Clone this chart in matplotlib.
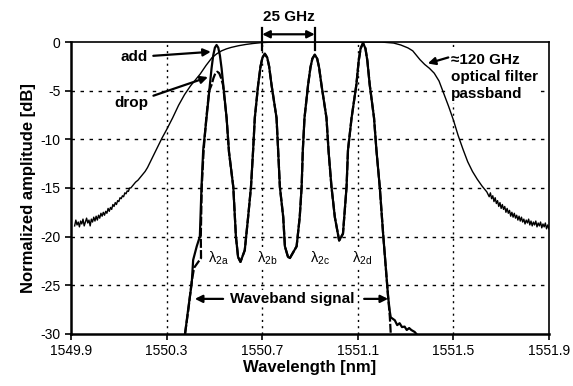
import matplotlib
matplotlib.use("Agg")
import matplotlib.pyplot as plt

plt.rcParams['font.family'] = ['Liberation Sans', 'DejaVu Sans']
plt.rcParams['axes.unicode_minus'] = False
plt.rcParams['mathtext.fontset'] = 'custom'
plt.rcParams['mathtext.rm'] = 'Liberation Sans'
plt.rcParams['mathtext.it'] = 'Liberation Sans'

# optical filter passband (thin trace)
filt_nm = [1549.915, 1549.920, 1549.925, 1549.930, 1549.935, 1549.940, 1549.945, 1549.950,
           1549.955, 1549.960, 1549.965, 1549.970, 1549.975, 1549.980, 1549.985, 1549.990,
           1549.995, 1550.000, 1550.005, 1550.010, 1550.015, 1550.020, 1550.025, 1550.030,
           1550.035, 1550.040, 1550.045, 1550.050, 1550.055, 1550.060, 1550.065, 1550.070,
           1550.075, 1550.080, 1550.085, 1550.090, 1550.095, 1550.100, 1550.105, 1550.110,
           1550.115, 1550.120, 1550.125, 1550.130, 1550.135, 1550.140, 1550.145, 1550.150,
           1550.160, 1550.170, 1550.180, 1550.190, 1550.200, 1550.210, 1550.220, 1550.230,
           1550.240, 1550.250, 1550.260, 1550.270, 1550.280, 1550.300, 1550.325, 1550.350,
           1550.375, 1550.400, 1550.420, 1550.440, 1550.465, 1550.490, 1550.510, 1550.530,
           1550.550, 1550.570, 1550.600, 1550.630, 1550.660, 1550.700, 1550.750, 1551.200,
           1551.250, 1551.280, 1551.310, 1551.330, 1551.360, 1551.380, 1551.400, 1551.420,
           1551.440, 1551.460, 1551.480, 1551.500, 1551.520, 1551.540, 1551.560, 1551.580,
           1551.600, 1551.620, 1551.640, 1551.650, 1551.655, 1551.660, 1551.665, 1551.670,
           1551.675, 1551.680, 1551.685, 1551.690, 1551.695, 1551.700, 1551.705, 1551.710,
           1551.715, 1551.720, 1551.725, 1551.730, 1551.735, 1551.740, 1551.745, 1551.750,
           1551.755, 1551.760, 1551.765, 1551.770, 1551.775, 1551.780, 1551.785, 1551.790,
           1551.795, 1551.800, 1551.805, 1551.810, 1551.815, 1551.820, 1551.825, 1551.830,
           1551.835, 1551.840, 1551.845, 1551.850, 1551.855, 1551.860, 1551.865, 1551.870,
           1551.875, 1551.880, 1551.885, 1551.890, 1551.895, 1551.900]
filt_db = [-18.9, -18.3, -18.8, -18.5, -19.0, -18.4, -18.7, -18.2,
           -18.9, -18.5, -18.1, -18.6, -18.3, -18.9, -18.2, -18.5,
           -18.0, -18.4, -17.9, -18.3, -17.8, -18.1, -17.6, -17.9,
           -17.5, -17.8, -17.4, -17.6, -17.1, -17.4, -17.0, -17.2,
           -16.7, -16.9, -16.5, -16.7, -16.3, -16.4, -16.0, -16.1,
           -15.8, -15.9, -15.5, -15.6, -15.3, -15.35, -15.0, -15.0,
           -14.7, -14.4, -14.2, -13.9, -13.6, -13.3, -12.9, -12.4,
           -11.9, -11.4, -10.9, -10.4, -9.9, -9.0, -7.8, -6.5,
           -5.4, -4.5, -3.9, -3.3, -2.4, -1.6, -1.2, -0.9,
           -0.7, -0.55, -0.38, -0.25, -0.15, -0.05, 0.0, 0.0,
           -0.1, -0.3, -0.6, -0.9, -1.8, -2.3, -2.7, -3.2,
           -4.0, -5.3, -6.6, -8.0, -9.6, -11.0, -12.3, -13.3,
           -14.1, -14.8, -15.4, -15.9, -15.5, -16.1, -15.8, -16.4,
           -16.0, -16.6, -16.3, -16.9, -16.5, -17.1, -16.7, -17.2,
           -16.9, -17.5, -17.1, -17.6, -17.3, -17.9, -17.5, -18.0,
           -17.6, -18.1, -17.8, -18.3, -17.9, -18.4, -18.0, -18.5,
           -18.2, -18.7, -18.3, -18.6, -18.2, -18.8, -18.4, -18.9,
           -18.5, -18.8, -18.4, -19.0, -18.6, -18.9, -18.5, -19.1,
           -18.7, -19.0, -18.6, -19.2, -18.8, -19.2]

# add channel trace
add_nm = [1550.377, 1550.390, 1550.405, 1550.411, 1550.426, 1550.439, 1550.446, 1550.453,
          1550.467, 1550.488, 1550.495, 1550.502, 1550.509, 1550.516, 1550.523, 1550.530,
          1550.551, 1550.561,
          1550.579, 1550.590, 1550.599, 1550.609, 1550.627, 1550.641, 1550.653, 1550.662,
          1550.669, 1550.683, 1550.693, 1550.701, 1550.711, 1550.721, 1550.729, 1550.739,
          1550.760, 1550.767,
          1550.774, 1550.788, 1550.795, 1550.808, 1550.816, 1550.844, 1550.857, 1550.865,
          1550.870, 1550.877, 1550.892, 1550.902, 1550.910, 1550.920, 1550.930, 1550.938,
          1550.948, 1550.969,
          1550.978, 1550.990, 1551.004, 1551.022, 1551.038, 1551.053, 1551.059, 1551.074,
          1551.094, 1551.104, 1551.112, 1551.122, 1551.132, 1551.140, 1551.150, 1551.168,
          1551.178, 1551.192,
          1551.206, 1551.217, 1551.227, 1551.234, 1551.238, 1551.255, 1551.265, 1551.275,
          1551.285, 1551.296, 1551.305, 1551.315, 1551.324, 1551.338, 1551.345]
add_db = [-30.0, -27.5, -24.8, -22.4, -21.0, -20.0, -14.9, -11.1,
          -7.8, -2.7, -1.37, -0.57, -0.3, -0.57, -1.37, -2.7,
          -7.8, -11.3,
          -14.9, -20.0, -22.1, -22.6, -21.4, -18.0, -14.9, -11.1,
          -7.8, -4.4, -2.5, -1.6, -1.2, -1.6, -2.5, -4.4,
          -7.8, -11.3,
          -14.9, -18.0, -21.0, -22.1, -22.2, -21.0, -18.0, -14.9,
          -11.1, -7.8, -4.4, -2.6, -1.7, -1.3, -1.7, -2.6,
          -4.4, -7.8,
          -11.3, -14.9, -18.0, -20.4, -19.7, -14.9, -11.1, -7.8,
          -4.4, -1.9, -0.65, -0.1, -0.65, -1.9, -4.4, -7.8,
          -11.1, -14.9,
          -19.7, -23.1, -26.2, -27.7, -28.3, -28.6, -29.1, -28.9,
          -29.3, -29.25, -29.6, -29.4, -29.6, -29.8, -30.0]

# drop channel trace
drop_nm = [1550.377, 1550.391, 1550.405, 1550.415, 1550.444, 1550.443, 1550.447, 1550.455,
           1550.466, 1550.478, 1550.488, 1550.496, 1550.504, 1550.512, 1550.520, 1550.528,
           1550.536, 1550.551,
           1550.561, 1550.579, 1550.590, 1550.599, 1550.609, 1550.627, 1550.641, 1550.653,
           1550.662, 1550.669, 1550.683, 1550.693, 1550.701, 1550.711, 1550.721, 1550.729,
           1550.739, 1550.760,
           1550.767, 1550.774, 1550.788, 1550.795, 1550.808, 1550.816, 1550.844, 1550.857,
           1550.865, 1550.870, 1550.877, 1550.892, 1550.902, 1550.910, 1550.920, 1550.930,
           1550.938, 1550.948,
           1550.969, 1550.978, 1550.990, 1551.004, 1551.022, 1551.038, 1551.053, 1551.059,
           1551.074, 1551.094, 1551.104, 1551.112, 1551.122, 1551.132, 1551.140, 1551.150,
           1551.168, 1551.178,
           1551.192, 1551.206, 1551.217, 1551.227, 1551.234, 1551.238]
drop_db = [-30.0, -27.5, -24.6, -23.2, -22.2, -20.0, -14.9, -11.1,
           -7.8, -5.0, -4.4, -3.7, -3.2, -3.05, -3.2, -3.7,
           -4.4, -7.8,
           -11.3, -14.9, -20.0, -22.1, -22.6, -21.4, -18.0, -14.9,
           -11.1, -7.8, -4.4, -2.5, -1.6, -1.2, -1.6, -2.5,
           -4.4, -7.8,
           -11.3, -14.9, -18.0, -21.0, -22.1, -22.2, -21.0, -18.0,
           -14.9, -11.1, -7.8, -4.4, -2.6, -1.7, -1.3, -1.7,
           -2.6, -4.4,
           -7.8, -11.3, -14.9, -18.0, -20.4, -19.7, -14.9, -11.1,
           -7.8, -4.4, -1.9, -0.65, -0.1, -0.65, -1.9, -4.4,
           -7.8, -11.1,
           -14.9, -19.7, -23.1, -26.2, -28.2, -30.0]

x_ticks = [1549.9, 1550.3, 1550.7, 1551.1, 1551.5, 1551.9]
y_ticks = [0, -5, -10, -15, -20, -25, -30]
lam_labels = [r'$\lambda_{2a}$', r'$\lambda_{2b}$', r'$\lambda_{2c}$', r'$\lambda_{2d}$']
lam_pos = [1550.473, 1550.678, 1550.900, 1551.075]

fig = plt.figure(figsize=(5.73, 3.86), dpi=100)
ax = fig.add_axes([0.124, 0.135, 0.834, 0.756])

ax.plot(filt_nm, filt_db, color='k', lw=1.0)
ax.plot(drop_nm, drop_db, color='k', lw=1.6, ls=(0, (4, 1)))
ax.plot(add_nm, add_db, color='k', lw=1.6)

ax.set_xlim(1549.9, 1551.9)
ax.set_ylim(-30, 0)
ax.set_xticks(x_ticks)
ax.set_xticklabels([f'{v:.1f}' for v in x_ticks])
ax.set_yticks(y_ticks)
ax.tick_params(direction='out', length=4, width=1.2, labelsize=10, colors='k')

# grid
for xv in x_ticks[1:-1]:
    ax.axvline(xv, color='k', lw=1.0, ls=(0, (1.5, 3)))
for yv in y_ticks[1:-1]:
    ax.axhline(yv, color='k', lw=1.0, ls=(0, (2.5, 4)))

for s in ['left', 'bottom']:
    ax.spines[s].set_linewidth(1.8)
for s in ['top', 'right']:
    ax.spines[s].set_linewidth(1.2)

ax.set_xlabel('Wavelength [nm]', fontsize=12, fontweight='bold', labelpad=1)
ax.set_ylabel('Normalized amplitude [dB]', fontsize=12, fontweight='bold', labelpad=3)

arw = dict(arrowstyle='-|>', color='k', lw=1.6, mutation_scale=11, shrinkA=2, shrinkB=0)
wbox = dict(facecolor='white', edgecolor='none', pad=1)

ax.annotate('add', xy=(1550.485, -1.0), xytext=(1550.164, -1.55),
            fontsize=11, fontweight='bold', ha='center', va='center', arrowprops=arw)
ax.annotate('drop', xy=(1550.473, -3.6), xytext=(1550.151, -6.3),
            fontsize=11, fontweight='bold', ha='center', va='center', arrowprops=arw)
ax.annotate('', xy=(1551.393, -2.2), xytext=(1551.49, -1.5), arrowprops=arw)
ax.text(1551.49, -3.6, '\u2248120 GHz\noptical filter\npassband', fontsize=11,
        fontweight='bold', ha='left', va='center', linespacing=1.3, bbox=wbox)

# 25 GHz spacing marker
for xv in [1550.70, 1550.92]:
    ax.plot([xv, xv], [1.45, -0.8], color='k', lw=1.6, clip_on=False)
ax.annotate('', xy=(1550.70, 0.8), xytext=(1550.92, 0.8), annotation_clip=False,
            arrowprops=dict(arrowstyle='<|-|>', color='k', lw=1.6, mutation_scale=11,
                            shrinkA=0, shrinkB=0))
ax.text(1550.81, 2.55, '25 GHz', fontsize=11, fontweight='bold', ha='center', va='center')

# waveband signal
ax.text(1550.826, -26.4, 'Waveband signal', fontsize=11, fontweight='bold',
        ha='center', va='center', bbox=wbox)
ax.annotate('', xy=(1550.418, -26.4), xytext=(1550.548, -26.4), arrowprops=arw)
ax.annotate('', xy=(1551.227, -26.4), xytext=(1551.115, -26.4), arrowprops=arw)

for lab, xv in zip(lam_labels, lam_pos):
    ax.text(xv, -22.2, lab, fontsize=10.5, ha='left', va='center', bbox=wbox)

fig.savefig('out.png', dpi=100)
